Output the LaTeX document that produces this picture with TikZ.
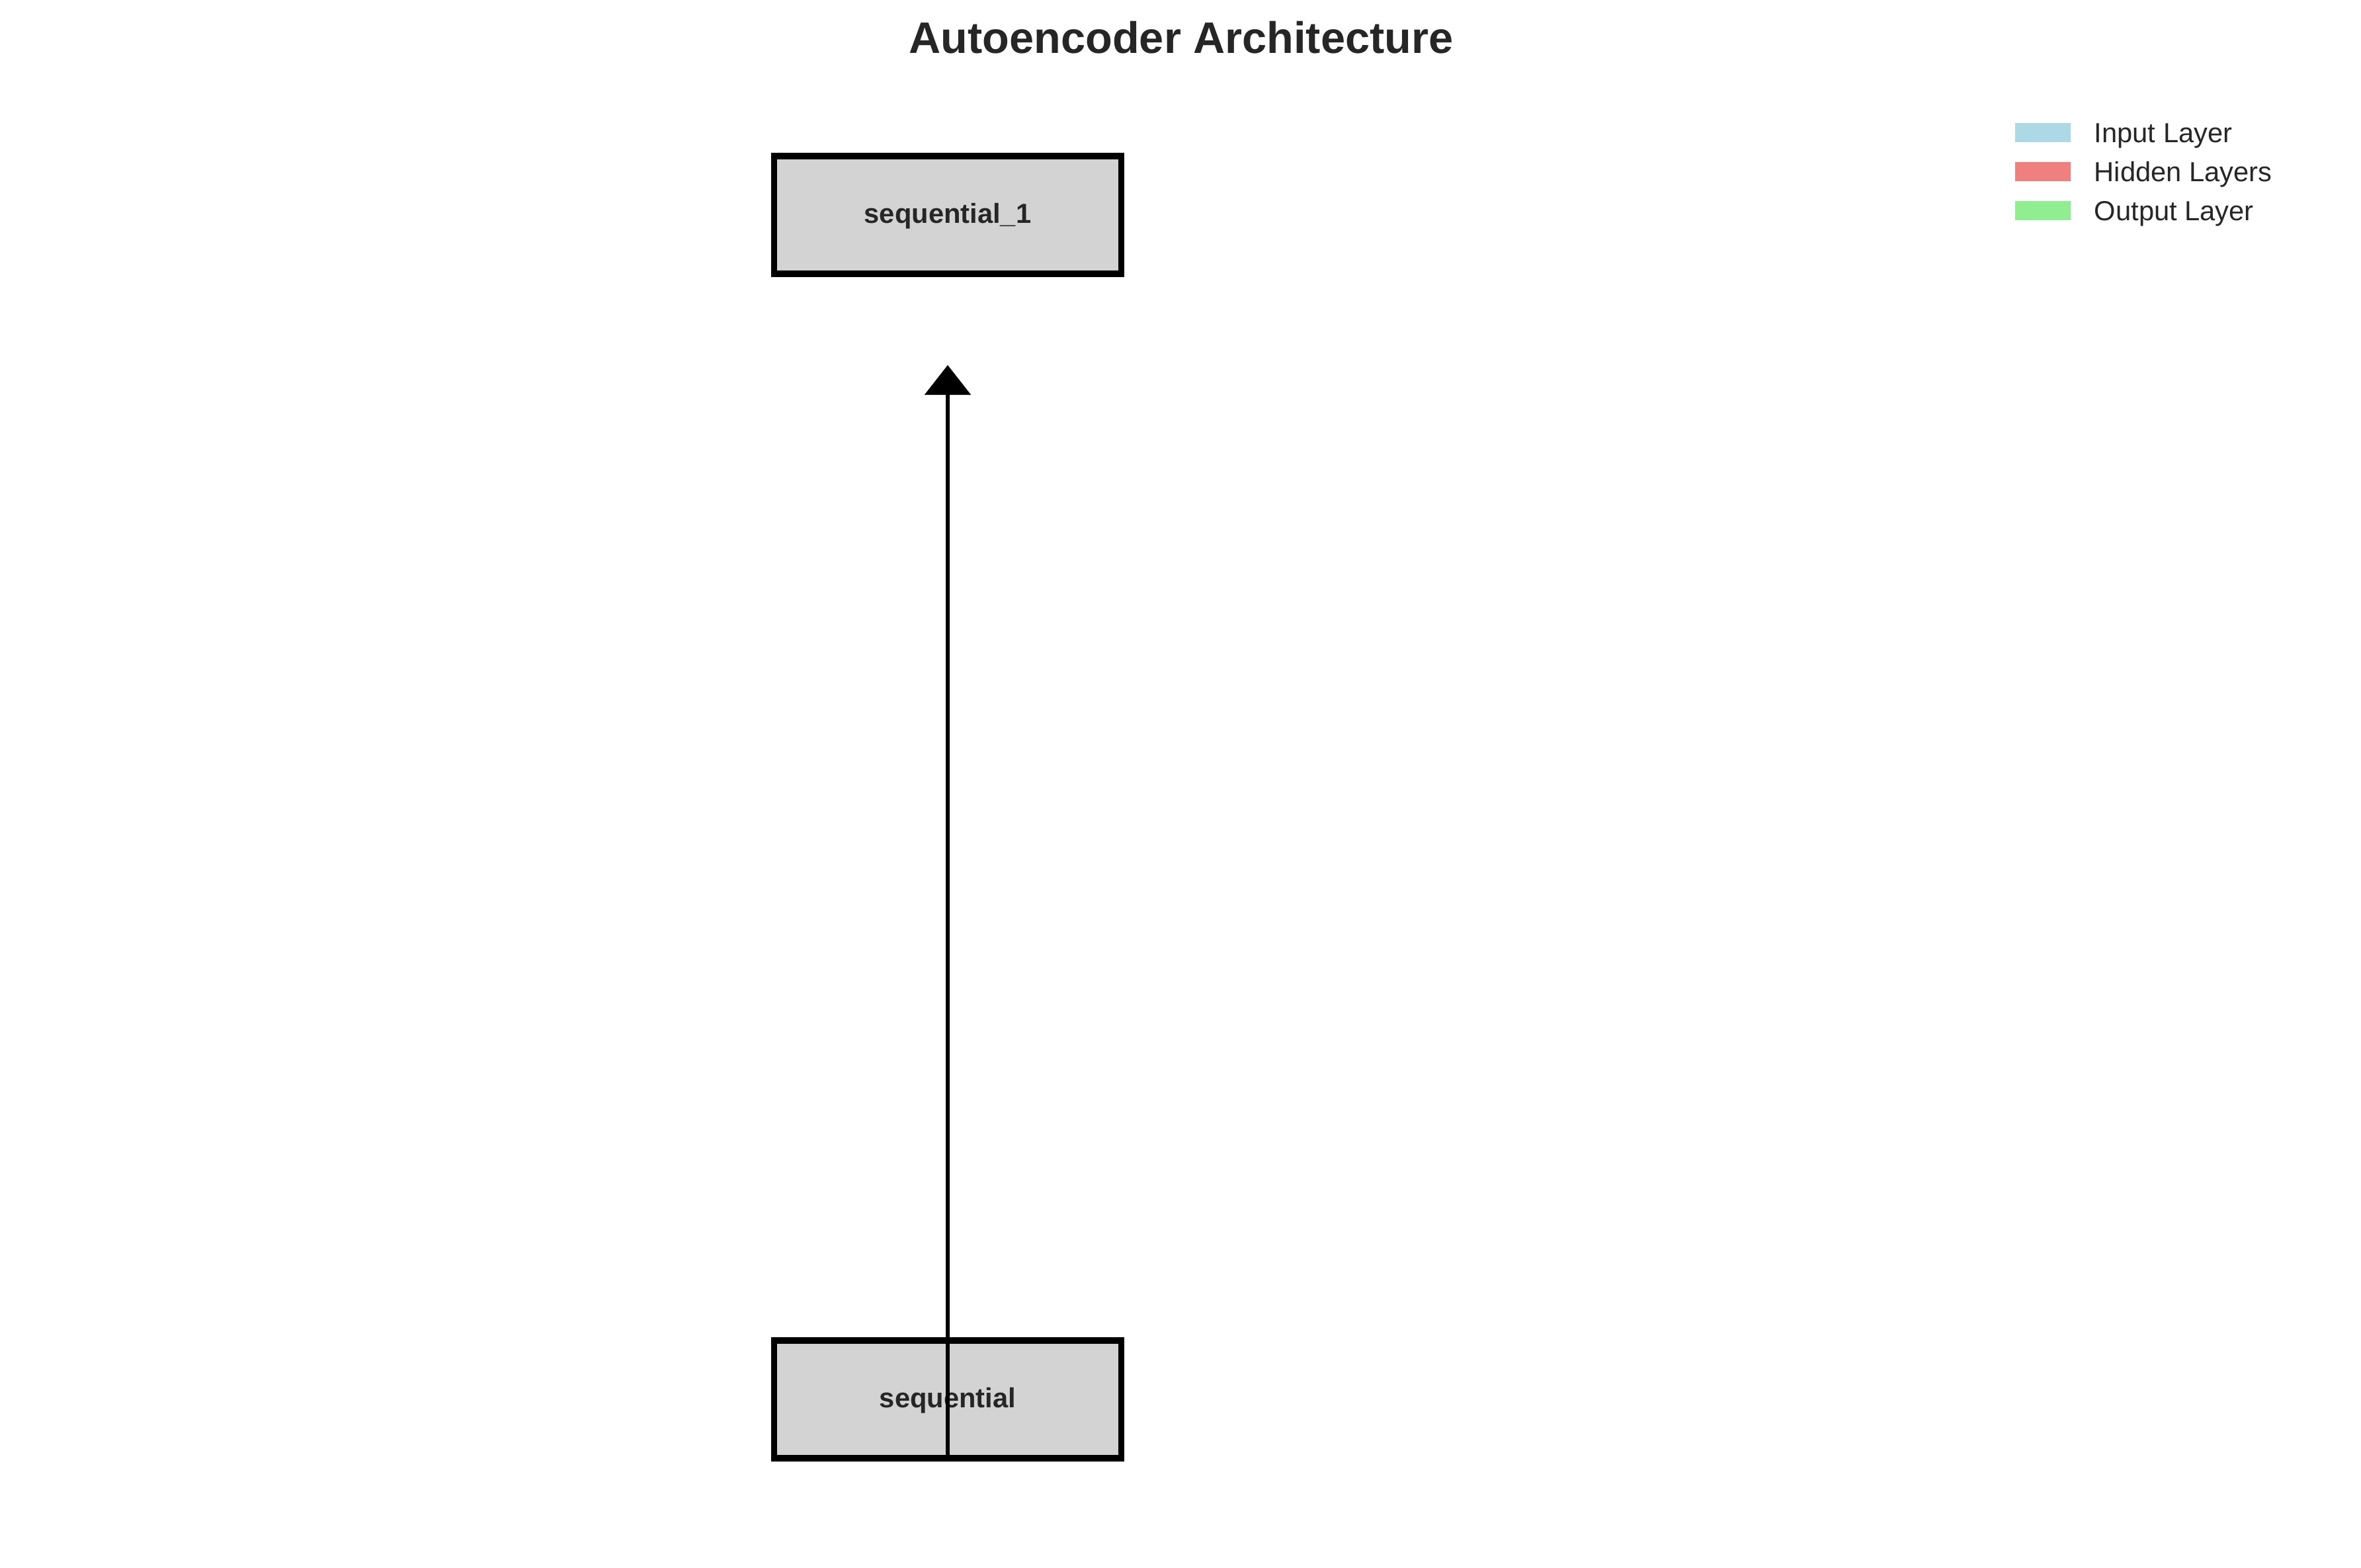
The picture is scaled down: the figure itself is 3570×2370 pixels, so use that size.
\documentclass[tikz,border=0pt]{standalone}
\usepackage{fontspec}
\setmainfont{Liberation Sans}
\usetikzlibrary{arrows.meta}
\definecolor{txt}{HTML}{262626}
\definecolor{boxgray}{HTML}{D3D3D3}
\definecolor{inblue}{HTML}{ADD8E6}
\definecolor{hidred}{HTML}{F08080}
\definecolor{outgreen}{HTML}{90EE90}
\tikzset{
  layerbox/.style={draw=black, line width=2.2pt, fill=boxgray,
    minimum width=126pt, minimum height=42.7pt, inner sep=0pt,
    font=\bfseries\fontsize{10}{12}\selectfont, text=txt,
    text height=7pt, text depth=1.2pt},
  legpatch/.style={fill=#1, draw=none, minimum width=20.2pt, minimum height=7pt, inner sep=0pt},
  legtext/.style={anchor=base west, inner sep=0pt, font=\fontsize{10}{12}\selectfont, text=txt},
  flow/.style={draw=black, line width=1.3pt, -{Triangle[width=16.6pt,length=10.8pt]}}
}
\begin{document}
\begin{tikzpicture}[x=0.24pt,y=-0.24pt]
\useasboundingbox (0,0) rectangle (3570,2370);
\node (title) [anchor=base, inner sep=0pt, font=\bfseries\fontsize{16}{19}\selectfont, text=txt] at (1786,80) {Autoencoder Architecture};
\node (seq1) [layerbox] at (1433,325) {sequential\_1};
\node (seq0) [layerbox] at (1433,2116) {sequential};
\coordinate (tip) at (1433,552);
\draw[flow] (seq0.south) -- (tip);
% legend
\node (pin) [legpatch=inblue] at (3089,200.5) {};
\node (phid) [legpatch=hidred] at (3089,259.5) {};
\node (pout) [legpatch=outgreen] at (3089,318.5) {};
\node (tin) [legtext] at (3166,215) {Input Layer};
\node (thid) [legtext] at (3166,274) {Hidden Layers};
\node (tout) [legtext] at (3166,333) {Output Layer};
\end{tikzpicture}
\end{document}
